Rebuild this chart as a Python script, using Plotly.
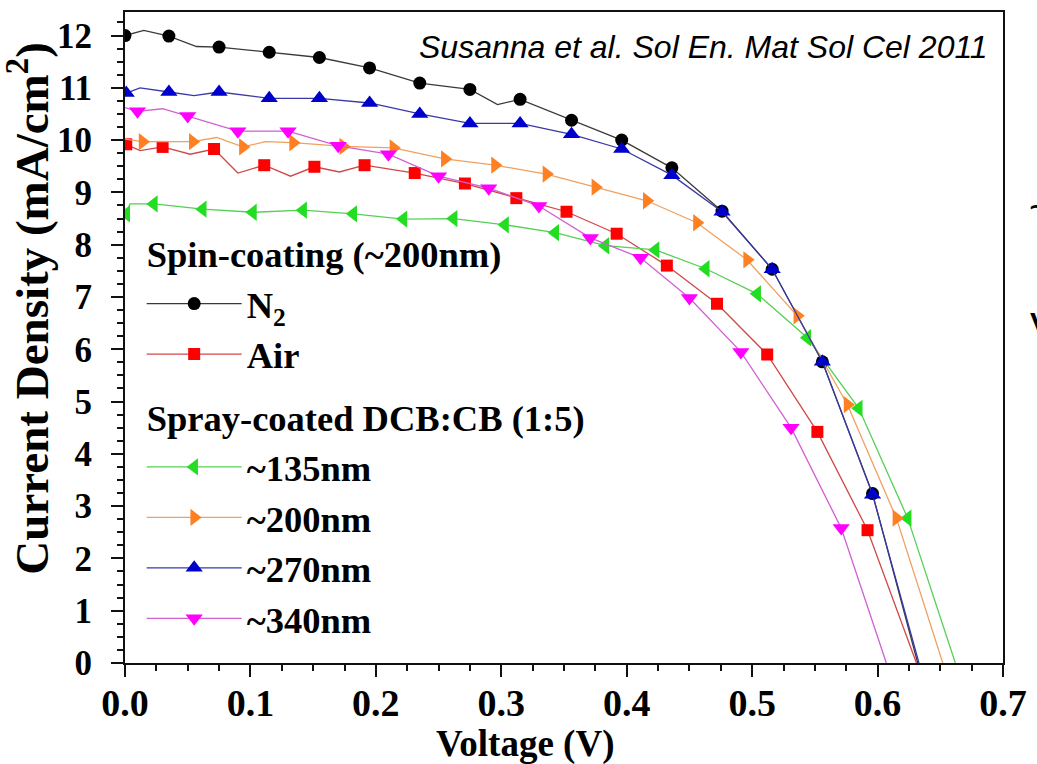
import plotly.graph_objects as go

# ---------------- data (Voltage V, Current density mA/cm2) ----------------
# marker points
n2_v = [0.000, 0.035, 0.075, 0.115, 0.155, 0.195, 0.235, 0.275, 0.315, 0.356, 0.396, 0.436, 0.476, 0.516, 0.556, 0.596]
n2_j = [12.00, 11.99, 11.78, 11.68, 11.58, 11.38, 11.09, 10.97, 10.78, 10.38, 10.00, 9.47, 8.64, 7.53, 5.76, 3.24]
air_v = [0.001, 0.030, 0.071, 0.111, 0.151, 0.191, 0.231, 0.271, 0.312, 0.352, 0.392, 0.432, 0.472, 0.512, 0.552, 0.592]
air_j = [9.92, 9.87, 9.83, 9.52, 9.49, 9.52, 9.37, 9.17, 8.89, 8.63, 8.21, 7.60, 6.87, 5.90, 4.42, 2.54]
s135_v = [0.001, 0.023, 0.062, 0.102, 0.142, 0.182, 0.222, 0.262, 0.303, 0.343, 0.383, 0.423, 0.463, 0.504, 0.544, 0.585, 0.624]
s135_j = [8.59, 8.78, 8.68, 8.62, 8.66, 8.59, 8.49, 8.50, 8.38, 8.23, 7.98, 7.90, 7.54, 7.06, 6.22, 4.87, 2.77]
s200_v = [0.014, 0.054, 0.094, 0.134, 0.174, 0.214, 0.255, 0.295, 0.336, 0.375, 0.416, 0.456, 0.496, 0.536, 0.576, 0.615]
s200_j = [9.97, 9.97, 9.87, 9.95, 9.88, 9.85, 9.64, 9.52, 9.35, 9.10, 8.84, 8.42, 7.71, 6.64, 4.94, 2.77]
s270_v = [0.001, 0.035, 0.075, 0.115, 0.155, 0.195, 0.235, 0.275, 0.315, 0.356, 0.396, 0.436, 0.476, 0.516, 0.556, 0.596]
s270_j = [10.90, 10.92, 10.92, 10.80, 10.80, 10.71, 10.50, 10.32, 10.32, 10.11, 9.83, 9.33, 8.63, 7.53, 5.76, 3.22]
s340_v = [0.010, 0.050, 0.090, 0.130, 0.170, 0.210, 0.250, 0.290, 0.330, 0.371, 0.411, 0.450, 0.491, 0.531, 0.571]
s340_j = [10.55, 10.46, 10.17, 10.17, 9.89, 9.73, 9.31, 9.08, 8.74, 8.13, 7.75, 6.98, 5.95, 4.50, 2.58]

# extra points of the measured curves between markers (incl. open-circuit end)
n2_xv = [0.015, 0.057, 0.297, 0.632]
n2_xj = [12.10, 11.79, 10.68, 0.0]
air_xv = [0.012, 0.052, 0.090, 0.132, 0.171, 0.631]
air_xj = [9.80, 9.73, 9.37, 9.31, 9.39, 0.0]
s135_xv = [0.004, 0.662]
s135_xj = [8.78, 0.0]
s200_xv = [0.000, 0.073, 0.112, 0.652]
s200_xj = [10.02, 10.05, 9.97, 0.0]
s270_xv = [0.012, 0.055, 0.633]
s270_xj = [11.00, 10.85, 0.0]
s340_xv = [0.000, 0.030, 0.607]
s340_xj = [10.62, 10.60, 0.0]

names = ["N<sub>2</sub>", "Air", "~135nm", "~200nm", "~270nm", "~340nm"]
groups = ["spin", "spin", "spray", "spray", "spray", "spray"]
group_titles = {"spin": "Spin-coating (~200nm)", "spray": "Spray-coated DCB:CB (1:5)"}
x_ticks = [0.0, 0.1, 0.2, 0.3, 0.4, 0.5, 0.6, 0.7]
y_ticks = list(range(0, 13))
citation = "Susanna et al. Sol En. Mat Sol Cel 2011"

series = [
    (n2_v, n2_j, n2_xv, n2_xj),
    (air_v, air_j, air_xv, air_xj),
    (s135_v, s135_j, s135_xv, s135_xj),
    (s200_v, s200_j, s200_xv, s200_xj),
    (s270_v, s270_j, s270_xv, s270_xj),
    (s340_v, s340_j, s340_xv, s340_xj),
]

# ---------------- styles ----------------
mk_colors = ["#000000", "#FF0000", "#22DD22", "#FF8022", "#0000CC", "#FF00FF"]
ln_colors = ["#3a3a3a", "#D04848", "#55D055", "#F0A060", "#3838A8", "#D060D0"]
symbols = ["circle", "square", "triangle-left", "triangle-right", "triangle-up", "triangle-down"]
sizes = [13, 12, 15, 15, 15, 15]

SERIF = "Liberation Serif, Times New Roman, serif"
SANS = "Liberation Sans, Arial, sans-serif"
LEG_SIZE = 36.5


def merged(v, j, xv, xj):
    pts = sorted(zip(list(v) + list(xv), list(j) + list(xj)))
    return [p[0] for p in pts], [p[1] for p in pts]


fig = go.Figure()
seen = set()
for i, (v, j, xv, xj) in enumerate(series):
    lv, lj = merged(v, j, xv, xj)
    fig.add_trace(go.Scatter(x=lv, y=lj, mode="lines", showlegend=False, hoverinfo="skip",
                             line=dict(color=ln_colors[i], width=1.3)))
    fig.add_trace(go.Scatter(x=v, y=j, mode="markers", showlegend=False, name=names[i],
                             marker=dict(symbol=symbols[i], size=sizes[i], color=mk_colors[i],
                                         line=dict(width=0))))
for i in range(len(series)):
    g = groups[i]
    kw = {}
    if g not in seen:
        kw["legendgrouptitle"] = dict(text=group_titles[g],
                                      font=dict(family=SERIF, size=LEG_SIZE, color="black", weight="bold"))
        seen.add(g)
    fig.add_trace(go.Scatter(x=[None], y=[None], mode="lines+markers", name=names[i],
                             legendgroup=g, showlegend=True,
                             line=dict(color=ln_colors[i], width=1.3),
                             marker=dict(symbol=symbols[i], size=sizes[i], color=mk_colors[i],
                                         line=dict(width=0)), **kw))

axis_common = dict(showline=True, linewidth=2, linecolor="#111", mirror=True,
                   ticks="outside", ticklen=12, tickwidth=2, tickcolor="#111",
                   showgrid=False, zeroline=False)

fig.update_xaxes(range=[0, 0.7], tickvals=x_ticks, tickformat=".1f",
                 tickfont=dict(family=SERIF, size=38, color="black", weight="bold"),
                 ticklabelstandoff=-7,
                 minor=dict(dtick=0.025, ticks="outside", ticklen=6, tickwidth=1.5, tickcolor="#111"),
                 **axis_common)
fig.update_yaxes(range=[0, 12.45], tickvals=y_ticks,
                 tickfont=dict(family=SERIF, size=35, color="black", weight="bold"),
                 ticklabelstandoff=12,
                 minor=dict(dtick=0.25, ticks="outside", ticklen=6, tickwidth=1.5, tickcolor="#111"),
                 **axis_common)

fig.update_layout(
    width=1037, height=764,
    margin=dict(l=125, r=34, t=10, b=101),
    paper_bgcolor="white", plot_bgcolor="white",
    showlegend=True,
    legend=dict(x=0.019, y=0.676, xanchor="left", yanchor="top",
                bgcolor="rgba(0,0,0,0)", borderwidth=0,
                traceorder="grouped", tracegroupgap=12, itemwidth=95,
                font=dict(family=SERIF, size=LEG_SIZE, color="black", weight="bold")),
    annotations=[
        dict(text="<i>" + citation + "</i>", xref="paper", yref="paper", x=0.985, y=0.946,
             xanchor="right", yanchor="middle", showarrow=False,
             font=dict(family=SANS, size=32, color="black")),
        dict(text="Voltage (V)", xref="paper", yref="paper", x=0.4556, y=-0.125,
             xanchor="center", yanchor="middle", showarrow=False,
             font=dict(family=SERIF, size=37, color="black", weight="bold")),
        dict(text="Current Density (mA/cm<sup>2</sup>)", xref="paper", yref="paper", x=-0.11, y=0.545,
             xanchor="center", yanchor="middle", textangle=-90, showarrow=False,
             font=dict(family=SERIF, size=47, color="black", weight="bold")),
        dict(text="~", xref="paper", yref="paper", x=1.027, y=0.70, xanchor="left", yanchor="middle",
             showarrow=False, font=dict(family=SANS, size=40, color="black")),
        dict(text="V", xref="paper", yref="paper", x=1.029, y=0.5145, xanchor="left", yanchor="middle",
             showarrow=False, font=dict(family=SANS, size=44, color="black")),
    ],
)

fig.write_html("out.html", config={"displayModeBar": False},
               post_script="document.body.style.margin='0px';document.body.style.overflow='hidden';")
